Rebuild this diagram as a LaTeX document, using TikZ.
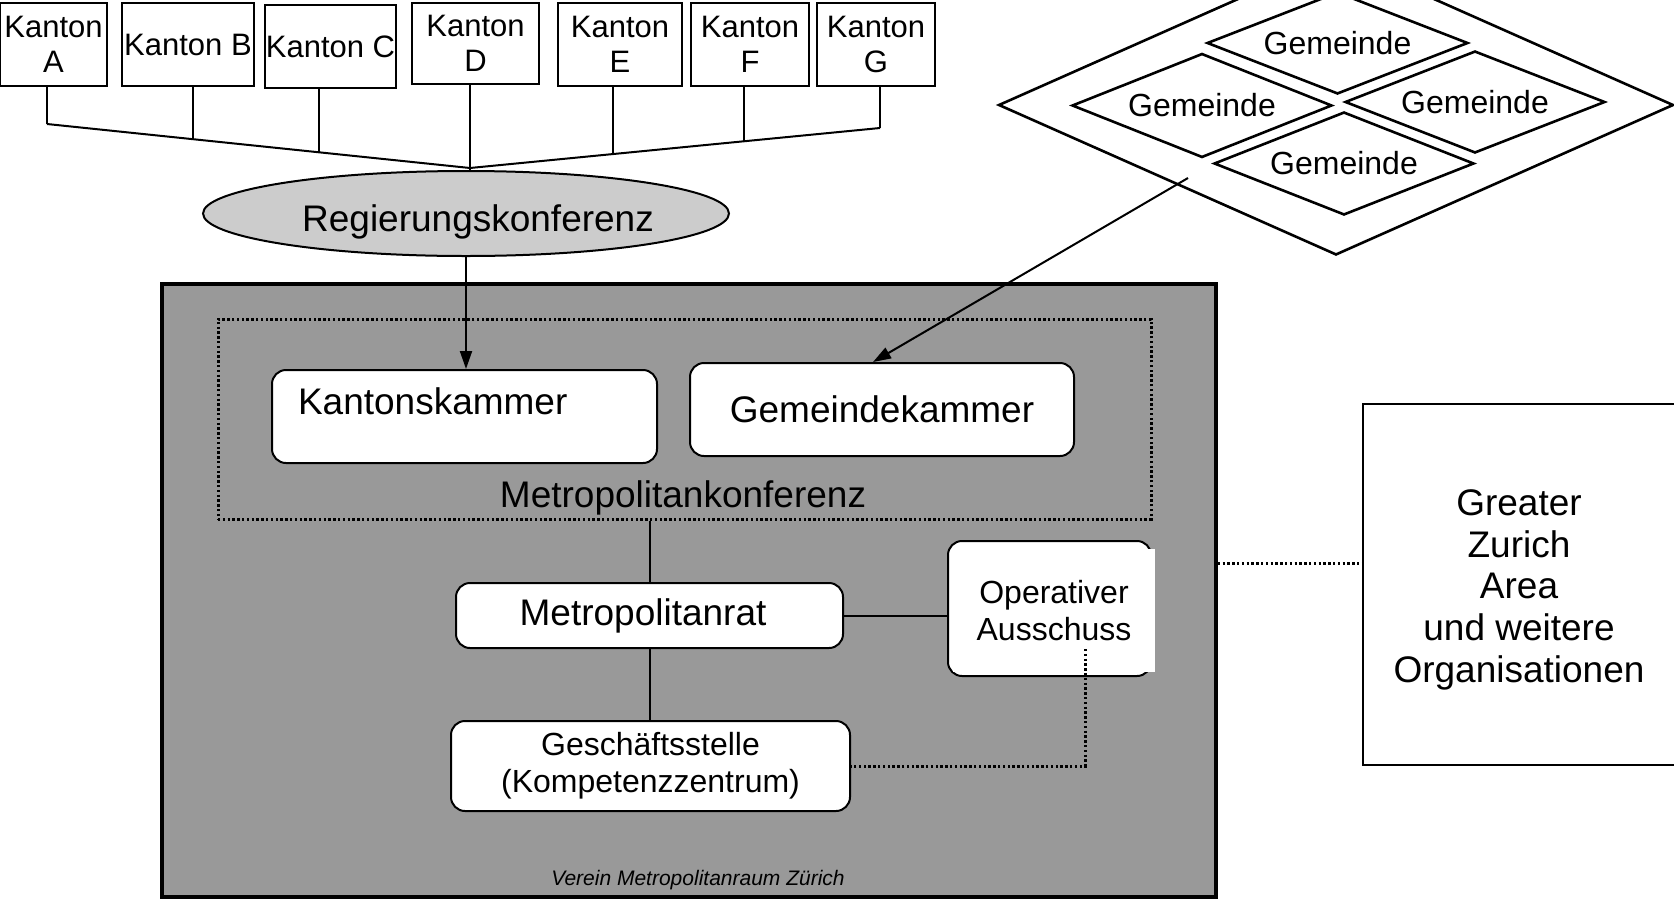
\documentclass[tikz,border=0pt]{standalone}
\usepackage{fontspec}
\setmainfont{Liberation Sans}
\usetikzlibrary{shapes.geometric,arrows.meta,calc}
\definecolor{boxgray}{RGB}{153,153,153}
\definecolor{ellgray}{RGB}{204,204,204}
\begin{document}
\begin{tikzpicture}[x=0.5pt,y=-0.5pt,
  line width=1pt,
  kbox/.style={draw, fill=white, inner sep=0pt, align=center, minimum height=41.5pt, font=\fontsize{15.5}{17.5}\selectfont},
  rbox/.style={draw, fill=white, rounded corners=7pt, inner sep=0pt, align=center},
  big/.style={font=\fontsize{18.5}{20.8}\selectfont},
  mid/.style={font=\fontsize{16}{18.6}\selectfont},
  gem/.style={draw, diamond, aspect=2.5, inner sep=0pt, line width=1.3pt, mid},
  dotline/.style={line width=1.5pt, dash pattern=on 1.2pt off 1.2pt},
  arr/.style={-{Triangle[length=9pt,width=6pt]}},
]
\useasboundingbox (0,0) rectangle (1674,900);

% big grey association box
\node[draw, fill=boxgray, line width=1.8pt, minimum width=527pt, minimum height=306.5pt, inner sep=0pt] (verein) at (689,590.5) {};
\node[draw, dotline, minimum width=466.5pt, minimum height=100pt, inner sep=0pt] (konf) at (684.5,419) {};
\node[big, inner sep=0pt] (konflbl) at (683,498) {Metropolitankonferenz};

% Kantone
\node[kbox, minimum width=53.5pt] (kA) at (53.5,44.5) {Kanton\\A};
\node[kbox, minimum width=66pt] (kB) at (188,44.5) {Kanton B};
\node[kbox, minimum width=65.5pt] (kC) at (330.5,46.5) {Kanton C};
\node[kbox, minimum width=63.5pt, minimum height=40.5pt] (kD) at (475.5,43.5) {Kanton\\D};
\node[kbox, minimum width=62pt] (kE) at (620,44.5) {Kanton\\E};
\node[kbox, minimum width=59pt] (kF) at (750,44.5) {Kanton\\F};
\node[kbox, minimum width=59pt] (kG) at (876,44.5) {Kanton\\G};

\node[draw, ellipse, fill=ellgray, inner sep=0pt, minimum width=263pt, minimum height=42.5pt,
  label={[big, inner sep=0pt, xshift=6pt, yshift=-4.3pt]center:Regierungskonferenz}] (reg) at (466,213.5) {};

\coordinate (LA) at (47,124);
\coordinate (J) at (470,168);
\coordinate (RG) at (880,128);
\coordinate (pB) at ($(LA)!0.345!(J)$);
\coordinate (pC) at ($(LA)!0.643!(J)$);
\coordinate (pE) at ($(J)!0.349!(RG)$);
\coordinate (pF) at ($(J)!0.668!(RG)$);
\draw (LA) -- (J) -- (RG);
\draw (LA |- kA.south) -- (LA);
\draw (pB |- kB.south) -- (pB);
\draw (pC |- kC.south) -- (pC);
\draw (J |- kD.south) -- (J |- reg.north);
\draw (pE |- kE.south) -- (pE);
\draw (pF |- kF.south) -- (pF);
\draw (RG |- kG.south) -- (RG);

% Gemeinden
\node[draw, diamond, inner sep=0pt, line width=1.3pt, minimum width=337.5pt, minimum height=150pt] (region) at (1336,105) {};
\node[gem, minimum width=130.5pt, minimum height=51pt] (gT) at (1337.5,43) {Gemeinde};
\node[gem, minimum width=130pt, minimum height=52pt] (gL) at (1202,105.5) {Gemeinde};
\node[gem, minimum width=130pt, minimum height=51pt] (gR) at (1475,102) {Gemeinde};
\node[gem, minimum width=130pt, minimum height=51.5pt] (gB) at (1344,163.5) {Gemeinde};

% inner boxes
\node[rbox, minimum width=192.5pt, minimum height=46.5pt,
  label={[big, inner sep=0pt, anchor=west, xshift=13pt, yshift=7.75pt]west:Kantonskammer}] (kk) at (464.5,416.5) {};
\node[rbox, minimum width=192pt, minimum height=46.5pt, big] (gk) at (882,409.5) {Gemeindekammer};
\node[rbox, minimum width=193.5pt, minimum height=32.5pt,
  label={[big, inner sep=0pt, xshift=-3.25pt]center:Metropolitanrat}] (mr) at (649.5,615.5) {};
\node[rbox, minimum width=101.5pt, minimum height=67.5pt] (opa) at (1049.5,608.5) {};
\node[fill=white, inner sep=0pt, minimum width=101pt, minimum height=61.5pt, align=center, mid] (opat) at (1054,610.5) {Operativer\\Ausschuss};
\node[rbox, minimum width=199.5pt, minimum height=45pt, mid] (gs) at (650.5,766) {Geschäftsstelle\\(Kompetenzzentrum)};
\node[font=\fontsize{10.5}{12}\selectfont\itshape, inner sep=0pt] (vlbl) at (698,880) {Verein Metropolitanraum Zürich};

\node[draw, inner sep=0pt, minimum width=156pt, minimum height=180.5pt,
  label={[big, align=center, inner sep=0pt, yshift=-2.7pt]center:Greater\\Zurich\\Area\\und weitere\\Organisationen}] (gza) at (1519,584.5) {};

% connectors
\draw[arr] (reg.south) -- (reg.south |- kk.north);
\coordinate (g0) at (1188,178);
\draw[arr] (g0) -- ([xshift=-4.5pt]gk.north);
\draw (mr.north |- konf.south) -- (mr.north);
\draw (mr.south) -- (mr.south |- gs.north);
\draw (mr.east) -- (mr.east -| opa.west);
\coordinate (d0) at (1085,649);
\draw[dotline] (d0) |- (gs.east);
\coordinate (vE) at ($(verein.east)+(0,-27.5)$);
\draw[dotline] (vE) -- (vE -| gza.west);
\end{tikzpicture}
\end{document}
